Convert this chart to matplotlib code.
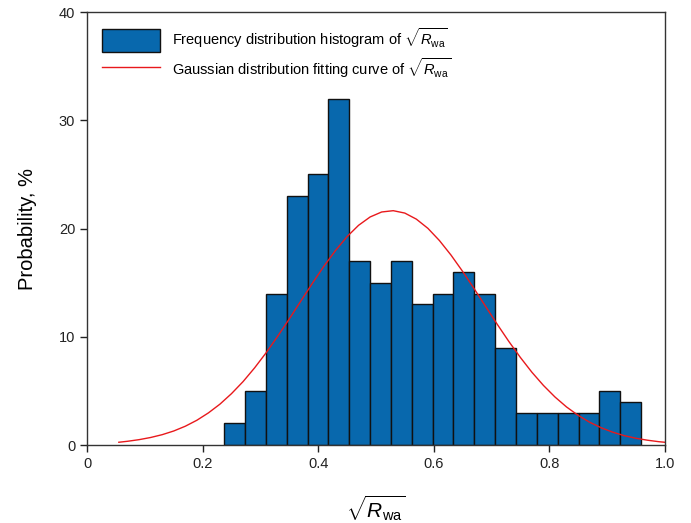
import matplotlib
matplotlib.use('Agg')
import matplotlib.pyplot as plt

plt.rcParams['font.family'] = ['Liberation Sans', 'DejaVu Sans']
plt.rcParams['mathtext.fontset'] = 'custom'
plt.rcParams['mathtext.rm'] = 'Liberation Sans'
plt.rcParams['mathtext.it'] = 'Liberation Sans:italic'

# histogram bins (left edge, width) and heights
bin_start = 0.2372
bin_width = 0.0361
heights = [2, 5, 14, 23, 25, 32, 17, 15, 17, 13, 14, 16, 14, 9, 3, 3, 3, 3, 5, 4]

# fitted gaussian curve
curve_x = [0.055, 0.07, 0.09, 0.11, 0.13, 0.15, 0.17, 0.19, 0.21, 0.23, 0.25,
           0.27, 0.29, 0.31, 0.33, 0.35, 0.37, 0.39, 0.41, 0.43, 0.45, 0.47,
           0.49, 0.51, 0.53, 0.55, 0.57, 0.59, 0.61, 0.63, 0.65, 0.67, 0.69,
           0.71, 0.73, 0.75, 0.77, 0.79, 0.81, 0.83, 0.85, 0.87, 0.89, 0.91,
           0.93, 0.95, 0.97, 0.99, 1.0]
curve_y = [0.26, 0.35, 0.50, 0.70, 0.96, 1.30, 1.74, 2.29, 2.97, 3.78, 4.75,
           5.86, 7.13, 8.53, 10.05, 11.65, 13.30, 14.94, 16.52, 17.97, 19.25, 20.30,
           21.07, 21.53, 21.65, 21.43, 20.87, 20.02, 18.89, 17.55, 16.05, 14.45, 12.80,
           11.16, 9.58, 8.10, 6.73, 5.51, 4.44, 3.52, 2.75, 2.11, 1.60, 1.19,
           0.87, 0.63, 0.45, 0.31, 0.26]

x_ticks = [0, 0.2, 0.4, 0.6, 0.8, 1.0]
x_labels = ['0', '0.2', '0.4', '0.6', '0.8', '1.0']
y_ticks = [0, 10, 20, 30, 40]

lefts = [bin_start + i * bin_width for i in range(len(heights))]

fig = plt.figure(figsize=(6.91, 5.23), dpi=100)
ax = fig.add_axes([0.126, 0.149, 0.836, 0.828])

bars = ax.bar(lefts, heights, width=bin_width, align='edge', color='#0868ad',
              edgecolor='#111111', linewidth=1.0,
              label=r'Frequency distribution histogram of $\sqrt{R_{\rm wa}}$')
line, = ax.plot(curve_x, curve_y, color='#e8191c', linewidth=1.0,
                label=r'Gaussian distribution fitting curve of $\sqrt{R_{\rm wa}}$')

ax.set_xlim(0, 1.0)
ax.set_ylim(0, 40)
ax.set_xticks(x_ticks)
ax.set_xticklabels(x_labels)
ax.set_yticks(y_ticks)
ax.tick_params(direction='out', length=5, width=1, labelsize=10.5, colors='#222222')
for s in ax.spines.values():
    s.set_color('#333333')
    s.set_linewidth(1.0)

ax.set_ylabel('Probability, %', fontsize=14.5, labelpad=16)
ax.set_xlabel(r'$\sqrt{R_{\rm wa}}$', fontsize=15, labelpad=16)

leg = ax.legend([bars, line], [bars.get_label(), line.get_label()],
                loc='upper left', frameon=False, fontsize=10.5,
                handlelength=4.0, handleheight=2.0, handletextpad=0.8,
                borderaxespad=0.6, labelspacing=0.3)

plt.savefig('out.png', dpi=100)
